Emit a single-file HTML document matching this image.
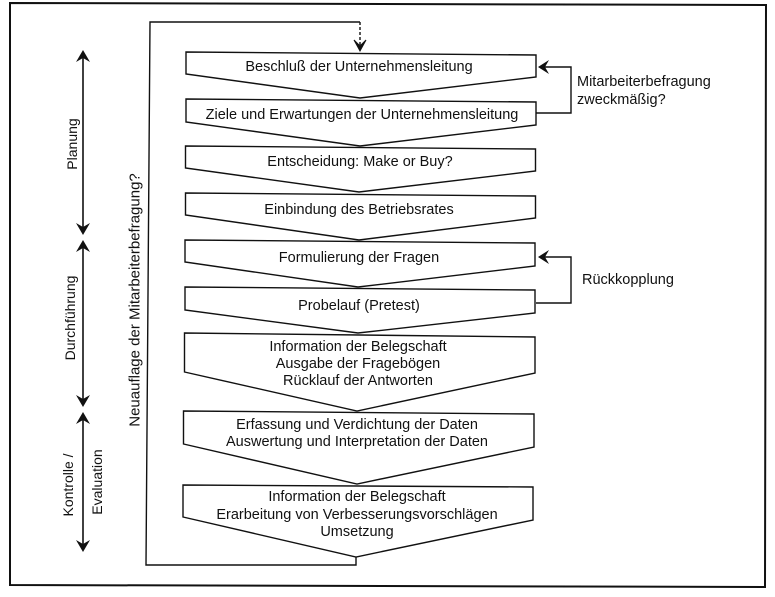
<!DOCTYPE html>
<html>
<head>
<meta charset="utf-8">
<style>
html,body{margin:0;padding:0;background:#fff;}
svg{display:block;}
text{font-family:"Liberation Sans",Arial,sans-serif;fill:#111;}
</style>
</head>
<body>
<svg width="775" height="597" viewBox="0 0 775 597" xmlns="http://www.w3.org/2000/svg">
<rect x="0" y="0" width="775" height="597" fill="#fff"/>
<!-- outer border -->
<path d="M10,3 L766,5 L765,587 L10,585 Z" fill="none" stroke="#111" stroke-width="2"/>

<!-- loop line -->
<polyline points="356,557 356,565 146,565 150,22 360,22" fill="none" stroke="#111" stroke-width="1.4"/>
<line x1="360" y1="22" x2="360" y2="49" stroke="#111" stroke-width="1.4" stroke-dasharray="3,2"/>
<path d="M354,40 L360,51 L366,40 L360,46 Z" fill="#111" stroke="#111" stroke-width="1"/>

<!-- boxes -->
<g fill="#fff" stroke="#111" stroke-width="1.4" stroke-linejoin="miter">
<polygon points="186,52 536,55 536,77 360,98 186,74"/>
<polygon points="186,99 536,102 536,125 360,146 186,122"/>
<polygon points="185.5,146 535.5,149 535.5,171 359,192 185.5,168"/>
<polygon points="185.5,193 535.5,196 535.5,218 359,240 185.5,215"/>
<polygon points="185,240 535,243 535,266 358,287 185,262"/>
<polygon points="185,287 535,290 535,313 358,333 185,310"/>
<polygon points="184.5,333 535,337 535,373 357,411 184.5,372"/>
<polygon points="183.5,411 534,414 534,447 357,484 183.5,444"/>
<polygon points="183,485 533,487 533,520 356,557 183,517"/>
</g>

<!-- box texts -->
<g font-size="14.5" text-anchor="middle" dominant-baseline="central">
<text x="359" y="67">Beschluß der Unternehmensleitung</text>
<text x="362" y="115">Ziele und Erwartungen der Unternehmensleitung</text>
<text x="360" y="162">Entscheidung: Make or Buy?</text>
<text x="359" y="210">Einbindung des Betriebsrates</text>
<text x="359" y="258">Formulierung der Fragen</text>
<text x="359" y="306">Probelauf (Pretest)</text>
<text x="358" y="347">Information der Belegschaft</text>
<text x="358" y="364">Ausgabe der Fragebögen</text>
<text x="358" y="381">Rücklauf der Antworten</text>
<text x="357" y="425">Erfassung und Verdichtung der Daten</text>
<text x="357" y="442">Auswertung und Interpretation der Daten</text>
<text x="357" y="497">Information der Belegschaft</text>
<text x="357" y="515">Erarbeitung von Verbesserungsvorschlägen</text>
<text x="357" y="532">Umsetzung</text>
</g>

<!-- right feedback brackets -->
<g fill="none" stroke="#111" stroke-width="1.4">
<polyline points="536,113 571,113 571,67 540,67"/>
<polyline points="536,303 571,303 571,257 540,257"/>
</g>
<path d="M538,67 L549,60 L545,67 L549,74 Z" fill="#111"/>
<path d="M538,257 L549,250 L545,257 L549,264 Z" fill="#111"/>
<g font-size="14.5" dominant-baseline="central">
<text x="577" y="82">Mitarbeiterbefragung</text>
<text x="577" y="100">zweckmäßig?</text>
<text x="582" y="280">Rückkopplung</text>
</g>

<!-- left phase arrows -->
<g stroke="#111" stroke-width="1.6">
<line x1="83" y1="52" x2="83" y2="233"/>
<line x1="83" y1="242" x2="83" y2="405"/>
<line x1="83" y1="414" x2="83" y2="550"/>
</g>
<g fill="#111">
<path d="M83,50 L90,62 L83,58 L76,62 Z"/>
<path d="M83,235 L90,223 L83,227 L76,223 Z"/>
<path d="M83,240 L90,252 L83,248 L76,252 Z"/>
<path d="M83,407 L90,395 L83,399 L76,395 Z"/>
<path d="M83,412 L90,424 L83,420 L76,424 Z"/>
<path d="M83,552 L90,540 L83,544 L76,540 Z"/>
</g>

<!-- rotated labels -->
<g font-size="14" text-anchor="middle" dominant-baseline="central">
<text transform="translate(72,144) rotate(-90)">Planung</text>
<text transform="translate(70,318) rotate(-90)">Durchführung</text>
<text transform="translate(68,485) rotate(-90)">Kontrolle /</text>
<text transform="translate(97,482) rotate(-90)">Evaluation</text>
</g>
<text font-size="15" text-anchor="middle" dominant-baseline="central" transform="translate(135,300) rotate(-90)">Neuauflage der Mitarbeiterbefragung?</text>
</svg>
</body>
</html>
